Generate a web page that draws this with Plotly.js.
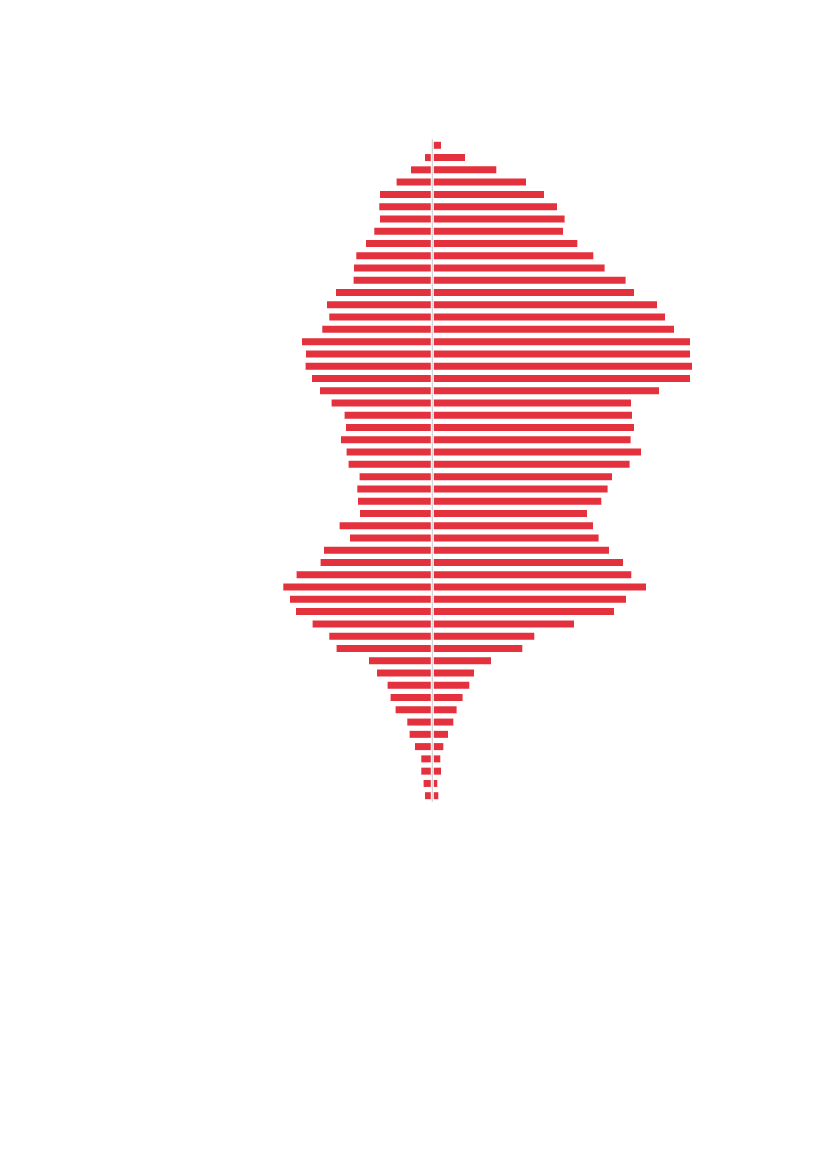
<!DOCTYPE html>
<html>
<head>
<meta charset="utf-8">
<script src="https://cdn.plot.ly/plotly-3.1.0.min.js"></script>
<style>
  html, body { margin: 0; padding: 0; background: #fff; }
  #chart { width: 827px; height: 1169px; }
</style>
</head>
<body>
<div id="chart"></div>
<script>
// age rows, youngest (bottom) to oldest (top)
const ages = Array.from({length: 54}, (_, i) => i);

// left side, bottom to top
const leftValues = [
  7.3, 8.7, 11, 11, 17.3, 22.7, 25, 36.7, 41.7, 44.7,
  55.3, 63.3, 95.7, 103, 119.7, 136.3, 142.3, 149, 135.7, 111.7,
  108.3, 82.3, 92.7, 72.3, 74.3, 75, 72.7, 83.7, 85.7, 91.3,
  86.3, 87.7, 100.7, 112.3, 120.3, 126.7, 126.3, 130.3, 110, 103,
  105.3, 96.3, 78.7, 78.3, 76, 66.3, 58, 52.3, 53, 52.3,
  35.7, 21.3, 7.3, 1.3
];

// right side, bottom to top
const rightValues = [
  6, 5, 8.7, 8, 11, 15.7, 21, 24.3, 30.3, 37,
  41.7, 58.7, 90, 102, 141.7, 181.7, 193.7, 213.7, 199, 190.7,
  176.7, 166.3, 160.7, 154.7, 169, 175.3, 179.7, 197.3, 208.7, 198.3,
  201.7, 199.7, 198.7, 226.7, 257.7, 259.7, 257.7, 257.7, 241.7, 232.7,
  224.7, 201.7, 193.3, 172.3, 161, 145, 130.7, 132.3, 124.7, 111.7,
  93.7, 64, 32.7, 8.7
];

const red = "#e3313e";

const left = {
  type: "bar",
  orientation: "h",
  y: ages,
  x: leftValues.map(v => -v),
  marker: { color: red, line: { width: 0 } },
  hoverinfo: "skip"
};
const right = {
  type: "bar",
  orientation: "h",
  y: ages,
  x: rightValues,
  marker: { color: red, line: { width: 0 } },
  hoverinfo: "skip"
};

const layout = {
  width: 827,
  height: 1169,
  margin: { l: 0, r: 0, t: 0, b: 0 },
  paper_bgcolor: "#fff",
  plot_bgcolor: "#fff",
  showlegend: false,
  barmode: "relative",
  bargap: 0.43,
  xaxis: {
    range: [-432.3, 394.7],
    visible: false,
    showgrid: false,
    zeroline: false,
    fixedrange: true
  },
  yaxis: {
    range: [-30.42, 64.84],
    visible: false,
    showgrid: false,
    zeroline: false,
    fixedrange: true
  },
  shapes: [
    { type: "line", xref: "x", yref: "y", x0: 0, x1: 0, y0: -0.5, y1: 53.5,
      line: { color: "#fff", width: 3 }, layer: "above" },
    { type: "line", xref: "x", yref: "y", x0: 0, x1: 0, y0: -0.5, y1: 53.5,
      line: { color: "#c8c8c8", width: 1 }, layer: "above" }
  ]
};

Plotly.newPlot("chart", [left, right], layout, { displayModeBar: false, staticPlot: true });
</script>
</body>
</html>
